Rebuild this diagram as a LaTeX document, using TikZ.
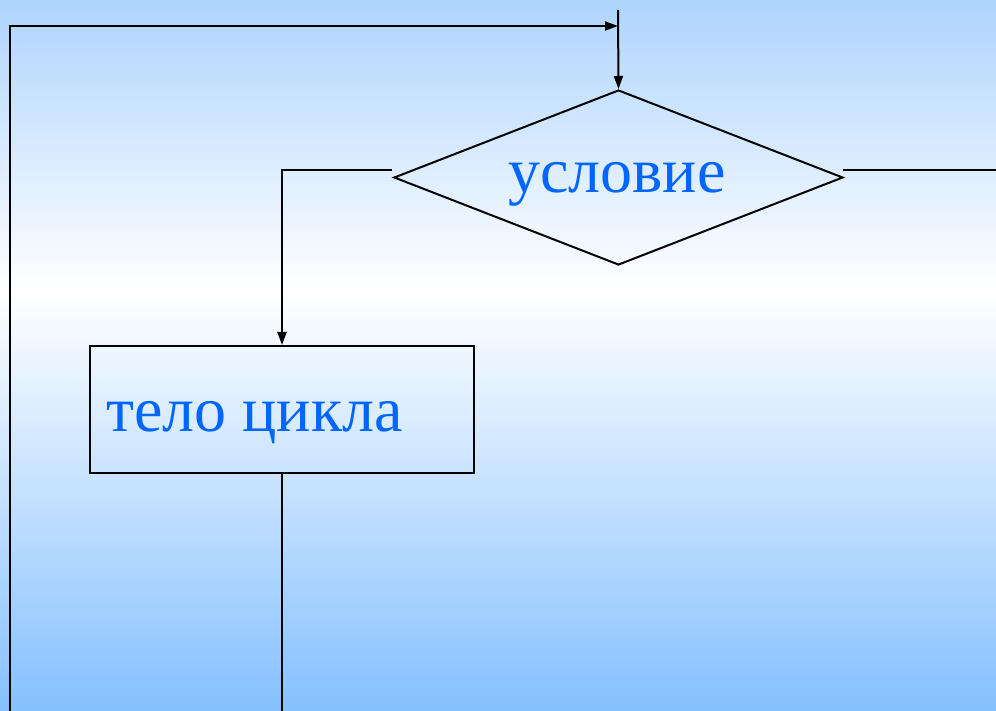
\documentclass[tikz,border=0pt]{standalone}
\usepackage{fontspec}
\setmainfont{Liberation Serif}
\usetikzlibrary{shapes.geometric,arrows.meta}
\definecolor{bgtop}{RGB}{174,212,255}
\definecolor{bgbot}{RGB}{133,192,255}
\definecolor{txtblue}{RGB}{0,102,255}
\begin{document}
\begin{tikzpicture}[x=1pt,y=-1pt,
  conn/.style={line width=2pt,black},
  arr/.style={conn,-{Triangle[length=13pt,width=9pt]}},
  lbl/.style={text=txtblue,font=\fontsize{64}{76}\selectfont,inner sep=0pt}]
\useasboundingbox (0,0) rectangle (996,711);
\fill[top color=bgtop,bottom color=white] (0,0) rectangle (996,290.5);
\fill[top color=white,bottom color=bgbot] (0,290) rectangle (996,711);
\node[draw,line width=2pt,shape=diamond,minimum width=449pt,minimum height=175pt,inner sep=0pt] (cond) at (618.5,177.5) {};
\node[lbl] (condtxt) at (617,184) {условие};
\node[draw,line width=2pt,rectangle,minimum width=384pt,minimum height=127pt,inner sep=0pt] (body) at (282,409.5) {};
\node[lbl,anchor=west] (bodytxt) at (106,423) {тело цикла};
\coordinate (topin) at (618,10);
\coordinate (loopbot) at (10,711);
\coordinate (loopcorner) at (10,26);
\coordinate (loopend) at (618,26);
\coordinate (nostart) at (392,170);
\coordinate (nocorner) at (282,170);
\coordinate (exitstart) at (843,170);
\coordinate (exitend) at (996,170);
\coordinate (bodyout) at (282,711);
\draw[arr] (topin) -- (cond.north);
\draw[arr] (loopbot) -- (loopcorner) -- (loopend);
\draw[arr] (nostart) -- (nocorner) -- (body.north);
\draw[conn] (exitstart) -- (exitend);
\draw[conn] (body.south) -- (bodyout);
\end{tikzpicture}
\end{document}
